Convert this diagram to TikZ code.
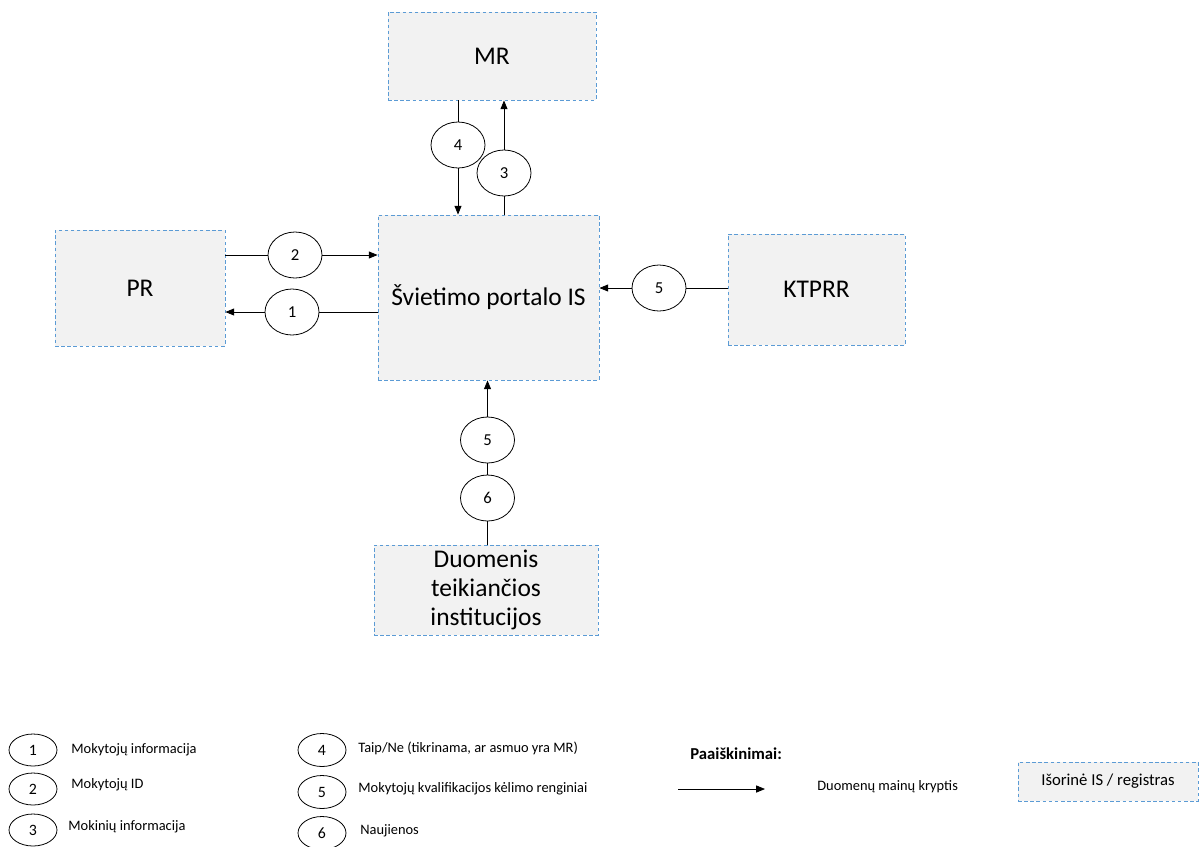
\documentclass[tikz,border=0pt]{standalone}
\usepackage{fontspec}
\setmainfont{Carlito}
\usetikzlibrary{shapes.geometric,arrows.meta}
\definecolor{boxFill}{RGB}{242,242,242}
\definecolor{boxBlue}{RGB}{91,155,213}

\begin{document}
\begin{tikzpicture}[x=0.02cm,y=-0.02cm,
    regbox/.style={draw=boxBlue, fill=boxFill, dash pattern=on 2pt off 1.5pt, line width=0.5pt,
      inner sep=1pt, align=center, font=\fontsize{14.5}{16.5}\selectfont},
    flow/.style={ellipse, draw, line width=0.45pt, fill=white, minimum width=1.08cm,
      minimum height=0.92cm, inner sep=0pt, font=\fontsize{9.5}{10}\selectfont},
    keyoval/.style={ellipse, draw, line width=0.45pt, minimum width=0.96cm,
      minimum height=0.64cm, inner sep=0pt, font=\fontsize{9}{10}\selectfont},
    keytext/.style={anchor=west, inner sep=0pt, font=\fontsize{8.2}{9}\selectfont},
    link/.style={line width=0.45pt},
    arr/.style={link, -{Triangle[length=5pt,width=4pt]}}]
  \useasboundingbox (0,0) rectangle (1199,846);

  % registers and the portal
  \node[regbox, minimum width=4.16cm, minimum height=1.76cm] (mr) at (492,56) {MR};
  \node[regbox, minimum width=4.42cm, minimum height=3.3cm] (portal) at (488.5,297.5) {Švietimo portalo IS};
  \node[regbox, minimum width=3.4cm, minimum height=2.32cm] (pr) at (140,288) {PR};
  \node[regbox, minimum width=3.54cm, minimum height=2.22cm] (ktprr) at (816.5,289.5) {KTPRR};
  \node[regbox, minimum width=4.48cm, minimum height=1.8cm] (inst) at (486,590) {Duomenis\\teikiančios\\institucijos};

  % data flows
  \node[flow] (f4) at (458,145) {4};
  \node[flow] (f3) at (504,173) {3};
  \node[flow] (f2) at (295,255) {2};
  \node[flow] (f1) at (292,312) {1};
  \node[flow] (f5r) at (659,288) {5};
  \node[flow] (f5b) at (487.5,440) {5};
  \node[flow] (f6) at (487.5,498) {6};

  \draw[link] (f4 |- mr.south) -- (f4.north);
  \draw[arr] (f4.south) -- (f4 |- portal.north);
  \draw[link] (f3 |- portal.north) -- (f3.south);
  \draw[arr] (f3.north) -- (f3 |- mr.south);
  \draw[link] (pr.east |- f2) -- (f2.west);
  \draw[arr] (f2.east) -- (portal.west |- f2);
  \draw[link] (portal.west |- f1) -- (f1.east);
  \draw[arr] (f1.west) -- (pr.east |- f1);
  \draw[link] (ktprr.west |- f5r) -- (f5r.east);
  \draw[arr] (f5r.west) -- (portal.east |- f5r);
  \draw[link] (f6 |- inst.north) -- (f6.south);
  \draw[link] (f6.north) -- (f5b.south);
  \draw[arr] (f5b.north) -- (f5b |- portal.south);

  % legend
  \node[keyoval] (k1) at (33,750) {1};
  \node[keyoval] (k2) at (33,789) {2};
  \node[keyoval] (k3) at (33,830) {3};
  \node[keytext] at (71,750) {Mokytojų informacija};
  \node[keytext] at (71,785) {Mokytojų ID};
  \node[keytext] at (68,827) {Mokinių informacija};
  \node[keyoval, minimum height=0.66cm] (k4) at (322,750) {4};
  \node[keyoval, minimum height=0.66cm] (k5) at (322,792) {5};
  \node[keyoval, minimum height=0.66cm] (k6) at (322,833) {6};
  \node[keytext] at (358,748) {Taip/Ne (tikrinama, ar asmuo yra MR)};
  \node[keytext] at (358,789) {Mokytojų kvalifikacijos kėlimo renginiai};
  \node[keytext] at (360,831) {Naujienos};
  \node[keytext, font=\bfseries\fontsize{9.5}{10}\selectfont] (keyhead) at (690,754) {Paaiškinimai:};
  \coordinate (ka) at (678,789);
  \coordinate (kb) at (765,789);
  \draw[arr] (ka) -- (kb);
  \node[keytext] at (817,787) {Duomenų mainų kryptis};
  \node[regbox, minimum width=3.6cm, minimum height=0.78cm, font=\fontsize{9.5}{11}\selectfont] (keybox) at (1108,781.5) {Išorinė IS / registras};
\end{tikzpicture}
\end{document}
